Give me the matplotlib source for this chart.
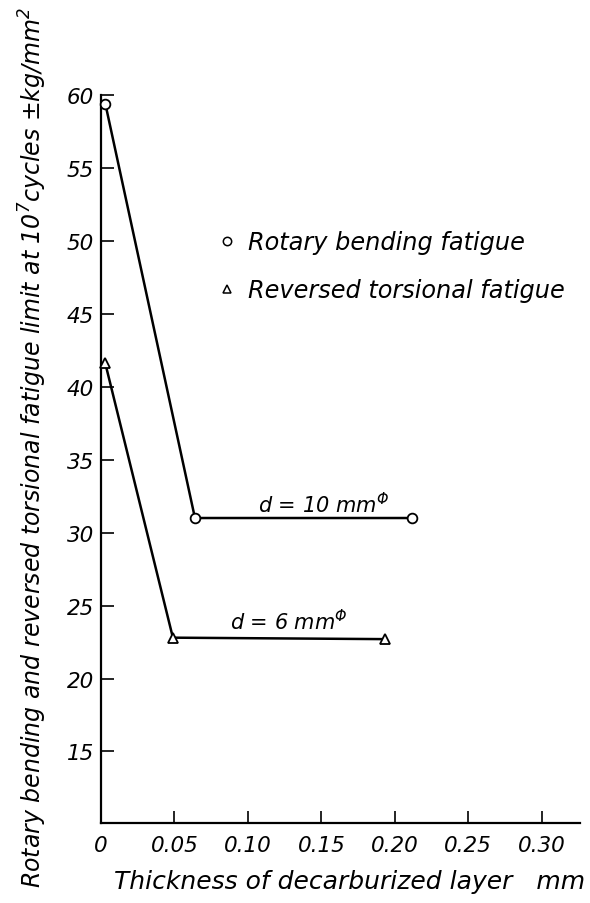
import matplotlib
matplotlib.use("Agg")
import matplotlib.pyplot as plt
from matplotlib.lines import Line2D

plt.rcParams['font.family'] = ['DejaVu Sans']
plt.rcParams['font.style'] = 'italic'
plt.rcParams['mathtext.fontset'] = 'custom'
plt.rcParams['mathtext.rm'] = 'DejaVu Sans:italic'
plt.rcParams['mathtext.it'] = 'DejaVu Sans:italic'
plt.rcParams['mathtext.default'] = 'rm'

# thickness of decarburized layer (mm) and fatigue limit (kg/mm^2)
bend_x = [0.003, 0.064, 0.212]
bend_y = [59.4, 31.0, 31.0]
tors_x = [0.003, 0.049, 0.193]
tors_y = [41.6, 22.8, 22.7]

xticks = [0, 0.05, 0.10, 0.15, 0.20, 0.25, 0.30]
xtick_labels = ['0', '0.05', '0.10', '0.15', '0.20', '0.25', '0.30']
yticks = [15, 20, 25, 30, 35, 40, 45, 50, 55, 60]

fig = plt.figure(figsize=(5.9, 9.04), dpi=100)
ax = fig.add_axes([0.171, 0.0885, 0.812, 0.8055])

ax.plot(bend_x, bend_y, color='black', lw=1.8, marker='o', ms=7,
        mfc='white', mec='black', mew=1.3, clip_on=False, zorder=3)
ax.plot(tors_x, tors_y, color='black', lw=1.8, marker='^', ms=7,
        mfc='white', mec='black', mew=1.3, clip_on=False, zorder=3)

ax.set_xlim(0, 0.326)
ax.set_ylim(10.1, 60)
ax.spines['top'].set_visible(False)
ax.spines['right'].set_visible(False)
for s in ('left', 'bottom'):
    ax.spines[s].set_linewidth(1.6)

ax.set_xticks(xticks)
ax.set_xticklabels(xtick_labels)
ax.set_yticks(yticks)
ax.tick_params(axis='both', direction='in', length=9, width=1.2,
               labelsize=15.5, pad=5)
ax.tick_params(axis='x', pad=9)
for lbl in ax.get_xticklabels() + ax.get_yticklabels():
    lbl.set_fontstyle('italic')

ax.text(0.107, 32.0, r'd = 10 mm$^{\Phi}$', fontsize=15, va='center')
ax.text(0.088, 24.0, r'd = 6 mm$^{\Phi}$', fontsize=15, va='center')

handles = [Line2D([], [], ls='none', marker='o', ms=6, mfc='white',
                  mec='black', mew=1.1),
           Line2D([], [], ls='none', marker='^', ms=6, mfc='white',
                  mec='black', mew=1.1)]
fig.legend(handles, ['Rotary bending fatigue', 'Reversed torsional fatigue'],
           loc='upper left', bbox_to_anchor=(0.369, 0.744), frameon=False,
           fontsize=17.3, handlelength=0.8, handletextpad=0.45,
           labelspacing=1.0, borderaxespad=0, borderpad=0)

fig.text(0.593, 0.024, 'Thickness of decarburized layer   mm',
         ha='center', va='center', fontsize=18, fontstyle='italic')
fig.text(0.055, 0.505,
         r'Rotary bending and reversed torsional fatigue limit at $10^7$cycles $\pm$kg/mm$^2$',
         rotation=90, ha='center', va='center', fontsize=17,
         fontstyle='italic')

fig.savefig('out.png', dpi=100)
